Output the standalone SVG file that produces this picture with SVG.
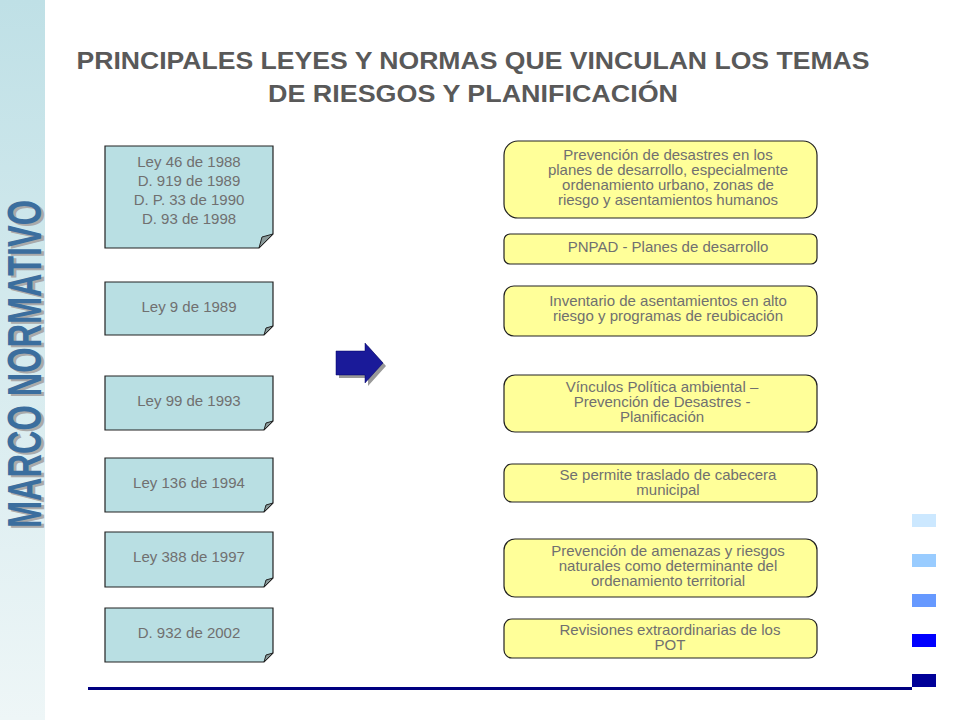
<svg xmlns="http://www.w3.org/2000/svg" width="960" height="720" viewBox="0 0 960 720">
<style>
.l{fill:#b9dfe3;stroke:#222;stroke-width:1.2}
.r{fill:#ffff99;stroke:#222;stroke-width:1.2}
.t{font-family:"Liberation Sans",Arial,sans-serif;font-size:15px;fill:#707070;text-anchor:middle}
.f{fill:#8a9a9a;stroke:#222;stroke-width:1}
</style>
<defs>
<linearGradient id="sb" x1="0" y1="0" x2="0" y2="1"><stop offset="0" stop-color="#bfe0e6"/><stop offset="1" stop-color="#eef6f7"/></linearGradient>
</defs>
<rect width="960" height="720" fill="#fff"/>
<rect x="0" y="0" width="45" height="720" fill="url(#sb)"/>
<g font-family="Liberation Sans,Arial,sans-serif" font-weight="bold" font-size="48">
<text transform="translate(44,530) rotate(-90)" textLength="328" lengthAdjust="spacingAndGlyphs" fill="#aaa">MARCO NORMATIVO</text>
<text transform="translate(41,528) rotate(-90)" textLength="328" lengthAdjust="spacingAndGlyphs" fill="#3b6e9e">MARCO NORMATIVO</text>
</g>
<g font-family="Liberation Sans,Arial,sans-serif" font-weight="bold" font-size="24" fill="#595959" text-anchor="middle">
<text x="473" y="69" textLength="793" lengthAdjust="spacingAndGlyphs">PRINCIPALES LEYES Y NORMAS QUE VINCULAN LOS TEMAS</text>
<text x="473" y="102" textLength="410" lengthAdjust="spacingAndGlyphs">DE RIESGOS Y PLANIFICACIÓN</text>
</g>
<g id="n1"><path class="l" d="M105 146H273V234L259 248H105Z"/><path class="f" d="M259 248L262 237L273 234Z"/>
<text class="t"><tspan x="189" y="167">Ley 46 de 1988</tspan><tspan x="189" y="186">D. 919 de 1989</tspan><tspan x="189" y="205">D. P. 33 de 1990</tspan><tspan x="189" y="224">D. 93 de 1998</tspan></text></g>
<g id="n2"><path class="l" d="M105 282H273V326L264 335H105Z"/><path class="f" d="M264 335L266 328L273 326Z"/><text class="t" x="189" y="312">Ley 9 de 1989</text></g>
<g id="n3"><path class="l" d="M105 376H273V421L264 430H105Z"/><path class="f" d="M264 430L266 423L273 421Z"/><text class="t" x="189" y="406">Ley 99 de 1993</text></g>
<g id="n4"><path class="l" d="M105 458H273V503L264 512H105Z"/><path class="f" d="M264 512L266 505L273 503Z"/><text class="t" x="189" y="488">Ley 136 de 1994</text></g>
<g id="n5"><path class="l" d="M105 532H273V578L264 587H105Z"/><path class="f" d="M264 587L266 580L273 578Z"/><text class="t" x="189" y="562">Ley 388 de 1997</text></g>
<g id="n6"><path class="l" d="M105 608H273V653L264 662H105Z"/><path class="f" d="M264 662L266 655L273 653Z"/><text class="t" x="189" y="638">D. 932 de 2002</text></g>
<g id="connectors">
<path d="M339 354H368V346L386 366L368 386V378H339Z" fill="#999"/>
<path d="M336 351H365V343L383 363L365 383V375H336Z" fill="#1a1a99" stroke="#000066" stroke-width="0.5"/>
</g>
<g id="r1"><rect class="r" x="504" y="141" width="313" height="77" rx="14"/><text class="t"><tspan x="668" y="160">Prevención de desastres en los</tspan><tspan x="668" y="175">planes de desarrollo, especialmente</tspan><tspan x="668" y="190">ordenamiento urbano, zonas de</tspan><tspan x="668" y="205">riesgo y asentamientos humanos</tspan></text></g>
<g id="r2"><rect class="r" x="504" y="234" width="313" height="30" rx="6"/><text class="t" x="668" y="252">PNPAD - Planes de desarrollo</text></g>
<g id="r3"><rect class="r" x="504" y="286" width="313" height="50" rx="10"/><text class="t"><tspan x="668" y="306">Inventario de asentamientos en alto</tspan><tspan x="668" y="321">riesgo y programas de reubicación</tspan></text></g>
<g id="r4"><rect class="r" x="504" y="375" width="313" height="57" rx="11"/><text class="t"><tspan x="662" y="392">Vínculos Política ambiental –</tspan><tspan x="662" y="407">Prevención de Desastres -</tspan><tspan x="662" y="422">Planificación</tspan></text></g>
<g id="r5"><rect class="r" x="504" y="464" width="313" height="38" rx="8"/><text class="t"><tspan x="668" y="480">Se permite traslado de cabecera</tspan><tspan x="668" y="495">municipal</tspan></text></g>
<g id="r6"><rect class="r" x="504" y="539" width="313" height="58" rx="11"/><text class="t"><tspan x="668" y="556">Prevención de amenazas y riesgos</tspan><tspan x="668" y="571">naturales como determinante del</tspan><tspan x="668" y="586">ordenamiento territorial</tspan></text></g>
<g id="r7"><rect class="r" x="504" y="619" width="313" height="39" rx="8"/><text class="t"><tspan x="670" y="635">Revisiones extraordinarias de los</tspan><tspan x="670" y="650">POT</tspan></text></g>
<rect x="88" y="687" width="824" height="3" fill="#000080"/>
<rect x="912" y="514" width="24" height="13" fill="#cce8ff"/>
<rect x="912" y="554" width="24" height="13" fill="#99ccff"/>
<rect x="912" y="594" width="24" height="13" fill="#6699ff"/>
<rect x="912" y="634" width="24" height="13" fill="#0000ff"/>
<rect x="912" y="674" width="24" height="13" fill="#000099"/>
</svg>
